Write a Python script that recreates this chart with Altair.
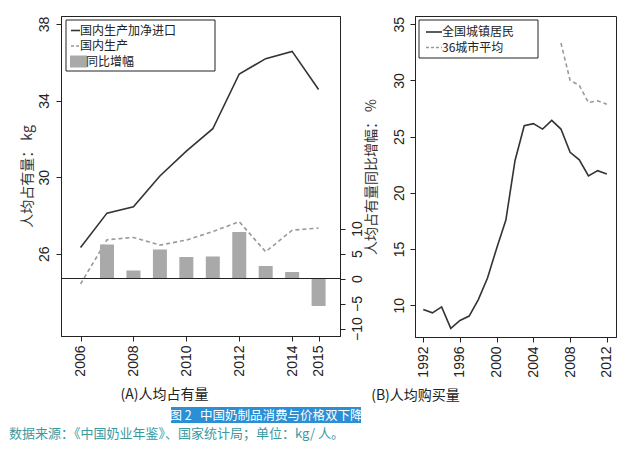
import altair as alt
import pandas as pd

# ---------------- data ----------------
years_a = [2006, 2007, 2008, 2009, 2010, 2011, 2012, 2013, 2014, 2015]
total_a = [26.33, 28.12, 28.45, 30.06, 31.36, 32.53, 35.39, 36.19, 36.57, 34.58]
domestic_a = [24.42, 26.73, 26.85, 26.45, 26.71, 27.16, 27.67, 26.10, 27.23, 27.34]
growth_years = [2007, 2008, 2009, 2010, 2011, 2012, 2013, 2014, 2015]
growth = [6.8, 1.6, 5.8, 4.3, 4.4, 9.3, 2.5, 1.3, -5.5]

years_b = list(range(1992, 2013))
urban_b = [9.62, 9.32, 9.85, 7.94, 8.64, 9.03, 10.5, 12.42, 15.07, 17.58, 22.88,
           25.97, 26.15, 25.67, 26.45, 25.67, 23.6, 22.94, 21.5, 21.97, 21.67]
city_years = [2007, 2008, 2009, 2010, 2011, 2012]
city36 = [33.33, 30.0, 29.55, 28.03, 28.18, 27.88]

legend_a = ["国内生产加净进口", "国内生产", "同比增幅"]
legend_b = ["全国城镇居民", "36城市平均"]
xticks_a = [2006, 2008, 2010, 2012, 2014, 2015]
yticks_a = [26, 30, 34, 38]
rticks_a = [-10, -5, 0, 5, 10]
xticks_b = [1992, 1996, 2000, 2004, 2008, 2012]
yticks_b = [10, 15, 20, 25, 30, 35]
title_a = "(A)人均占有量"
title_b = "(B)人均购买量"
ytitle_a = "人均占有量：  kg"
ytitle_b = "人均占有量同比增幅：  %"
caption = "图 2\u00a0\u00a0 中国奶制品消费与价格双下降"
source = "数据来源：《中国奶业年鉴》、国家统计局；单位：kg/ 人。"

df_a = pd.DataFrame({"year": years_a, "total": total_a, "domestic": domestic_a})
df_g = pd.DataFrame({"year": growth_years, "growth": growth})
df_b = pd.DataFrame({"year": years_b, "urban": urban_b})
df_c = pd.DataFrame({"year": city_years, "city": city36})
one = pd.DataFrame({"a": [0]})

CJK = "Noto Sans CJK SC"
LAT = "Liberation Sans"
INK = "#222222"
DARK = "#333333"
GRAY = "#9a9a9a"
BAR = "#a9a9a9"
LFS = 12

WA, HA = 279, 320
WB, HB = 201, 321

# ---------------- panel A ----------------
xa = alt.Scale(domain=[2005.45, 2015.62], nice=False, zero=False)
ya = alt.Scale(domain=[21.7, 38.42], nice=False, zero=False)
yr = alt.Scale(domain=[-11.5, 52.5], nice=False, zero=False)

xaxis_a = alt.Axis(values=xticks_a, format="d", labelAngle=270, title=title_a,
                   titleX=59, titleY=58, titleAlign="left", titleBaseline="middle",
                   titleFont=CJK, titleFontSize=14, titleColor=INK, titleFontWeight="normal",
                   tickSize=5, labelPadding=4)
yaxis_a = alt.Axis(values=yticks_a, labelAngle=270, labelAlign="center", labelBaseline="bottom",
                   title=ytitle_a, titleFont=CJK, titleFontSize=14, titleColor=DARK,
                   titleFontWeight="normal", titlePadding=3, tickSize=5, labelPadding=5)

solid_a = alt.Chart(df_a).mark_line(color=DARK, strokeWidth=1.6).encode(
    x=alt.X("year:Q", scale=xa, axis=xaxis_a),
    y=alt.Y("total:Q", scale=ya, axis=yaxis_a),
)
dash_a = alt.Chart(df_a).mark_line(color=GRAY, strokeWidth=1.6, strokeDash=[4, 3]).encode(
    x=alt.X("year:Q", scale=xa, axis=xaxis_a),
    y=alt.Y("domestic:Q", scale=ya, axis=yaxis_a),
)
raxis = alt.Axis(orient="right", values=rticks_a, labelAngle=270, labelAlign="center",
                 labelBaseline="top", title=None, tickSize=5, labelPadding=5)
bars_a = alt.Chart(df_g).mark_bar(color=BAR, size=14).encode(
    x=alt.X("year:Q", scale=xa, axis=xaxis_a),
    y=alt.Y("growth:Q", scale=yr, axis=raxis),
    y2=alt.datum(0),
)
zero_a = alt.Chart(one).mark_rule(color=INK, strokeWidth=1).encode(
    y=alt.Y("a:Q", scale=yr, axis=raxis),
)

# legend A (decoration)
leg_box_a = alt.Chart(one).mark_rect(fill="white", stroke=INK, strokeWidth=1).encode(
    x=alt.value(5), x2=alt.value(154), y=alt.value(4), y2=alt.value(55))
leg_l1 = alt.Chart(one).mark_rule(color=DARK, strokeWidth=1.6).encode(
    x=alt.value(10), x2=alt.value(19), y=alt.value(14.5))
leg_l2 = alt.Chart(one).mark_rule(color=GRAY, strokeWidth=1.6, strokeDash=[3, 2]).encode(
    x=alt.value(10), x2=alt.value(19), y=alt.value(30))
leg_sq = alt.Chart(one).mark_rect(fill=BAR).encode(
    x=alt.value(9), x2=alt.value(26), y=alt.value(39.5), y2=alt.value(51.5))
leg_t = [
    alt.Chart(one).mark_text(align="left", baseline="middle", font=CJK, fontSize=LFS, color=INK).encode(
        x=alt.value(px), y=alt.value(py), text=alt.value(t))
    for t, px, py in zip(legend_a, [19, 19, 25], [14.5, 30, 45.5])
]

cap_box = alt.Chart(one).mark_rect(fill="#2a8fd4").encode(
    x=alt.value(110), x2=alt.value(300), y=alt.value(391), y2=alt.value(407))
cap_txt = alt.Chart(one).mark_text(align="center", baseline="middle", font=CJK, fontSize=12.5,
                                   color="white").encode(
    x=alt.value(205), y=alt.value(399.5), text=alt.value(caption))
src_txt = alt.Chart(one).mark_text(align="left", baseline="middle", font=CJK, fontSize=13,
                                   color="#3a9aa0").encode(
    x=alt.value(-52), y=alt.value(418), text=alt.value(source))

panel_a = alt.layer(
    alt.layer(solid_a, dash_a),
    alt.layer(bars_a, zero_a),
    leg_box_a, leg_l1, leg_l2, leg_sq, *leg_t, cap_box, cap_txt, src_txt,
).resolve_scale(y="independent").properties(width=WA, height=HA)

# ---------------- panel B ----------------
xb = alt.Scale(domain=[1991.1, 2013.0], nice=False, zero=False)
yb = alt.Scale(domain=[7.17, 35.73], nice=False, zero=False)
xaxis_b = alt.Axis(values=xticks_b, format="d", labelAngle=270, title=title_b,
                   titleX=0, titleY=58, titleAlign="center", titleBaseline="middle",
                   titleFont=CJK, titleFontSize=14, titleColor=INK, titleFontWeight="normal",
                   tickSize=5, labelPadding=4)
yaxis_b = alt.Axis(values=yticks_b, labelAngle=270, labelAlign="center", labelBaseline="bottom",
                   title=ytitle_b, titleFont=CJK, titleFontSize=14, titleColor=DARK,
                   titleFontWeight="normal", titlePadding=14, tickSize=5, labelPadding=4)

solid_b = alt.Chart(df_b).mark_line(color=DARK, strokeWidth=1.6).encode(
    x=alt.X("year:Q", scale=xb, axis=xaxis_b),
    y=alt.Y("urban:Q", scale=yb, axis=yaxis_b),
)
dash_b = alt.Chart(df_c).mark_line(color=GRAY, strokeWidth=1.6, strokeDash=[4, 3]).encode(
    x=alt.X("year:Q", scale=xb, axis=xaxis_b),
    y=alt.Y("city:Q", scale=yb, axis=yaxis_b),
)
leg_box_b = alt.Chart(one).mark_rect(fill="white", stroke=INK, strokeWidth=1).encode(
    x=alt.value(4), x2=alt.value(123), y=alt.value(4), y2=alt.value(42))
legb_l1 = alt.Chart(one).mark_rule(color=DARK, strokeWidth=1.6).encode(
    x=alt.value(11), x2=alt.value(27), y=alt.value(16))
legb_l2 = alt.Chart(one).mark_rule(color=GRAY, strokeWidth=1.6, strokeDash=[3, 2]).encode(
    x=alt.value(11), x2=alt.value(27), y=alt.value(31.5))
legb_t = [
    alt.Chart(one).mark_text(align="left", baseline="middle", font=CJK, fontSize=LFS, color=INK).encode(
        x=alt.value(27), y=alt.value(py), text=alt.value(t))
    for t, py in zip(legend_b, [16, 31.5])
]

panel_b = alt.layer(solid_b, dash_b, leg_box_b, legb_l1, legb_l2, *legb_t).properties(
    width=WB, height=HB)

chart = alt.hconcat(panel_a, panel_b, spacing=75, bounds="flush").properties(
    padding={"left": 0, "top": 7, "right": 5, "bottom": 5},
    background="white",
).configure_view(stroke=INK, strokeWidth=1).configure_axis(
    grid=False, labelFont=LAT, labelFontSize=14, labelColor=INK,
    tickColor=INK, domainColor=INK, titleFont=CJK,
)

chart.save("out.html", embed_options={"renderer": "svg", "actions": False})
